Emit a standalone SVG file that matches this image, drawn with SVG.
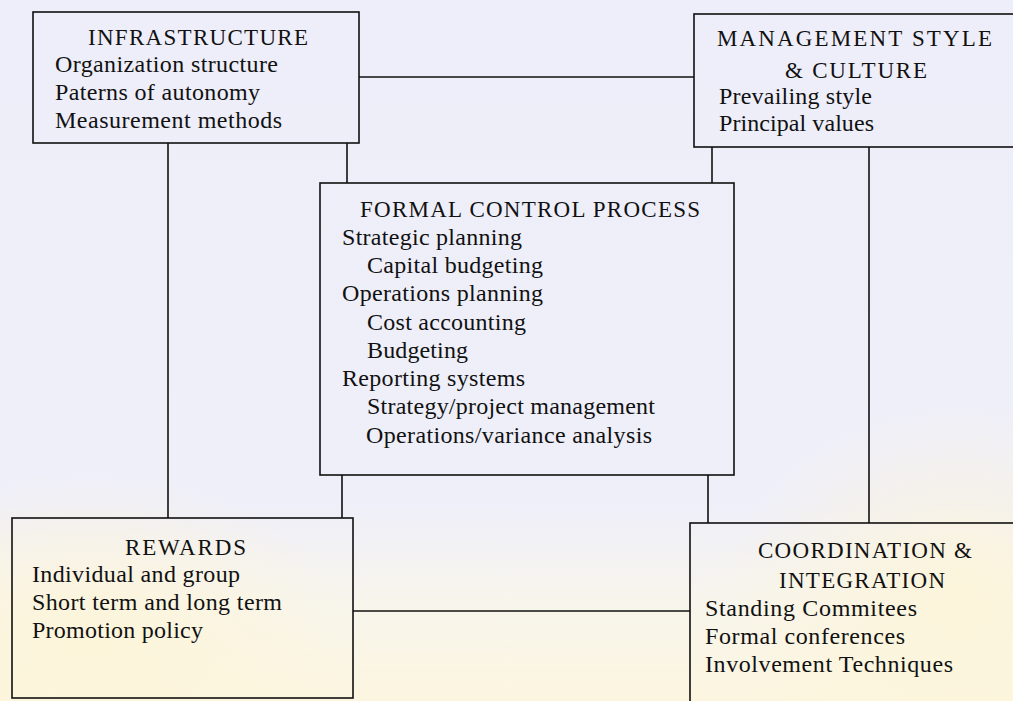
<svg xmlns="http://www.w3.org/2000/svg" width="1013" height="701" viewBox="0 0 1013 701">
  <defs>
    <linearGradient id="bg" x1="0" y1="0" x2="0" y2="1">
      <stop offset="0" stop-color="#eeeefa"/>
      <stop offset="0.72" stop-color="#efeff9"/>
      <stop offset="0.86" stop-color="#f8f5ec"/>
      <stop offset="1" stop-color="#fcf6e0"/>
    </linearGradient>
    <radialGradient id="yl" cx="0.5" cy="0.5" r="0.5">
      <stop offset="0" stop-color="#fdf5d8" stop-opacity="0.9"/>
      <stop offset="1" stop-color="#fdf5d8" stop-opacity="0"/>
    </radialGradient>
    <style>
      .box { fill: none; stroke: #111; stroke-width: 1.6; }
      .con { fill: none; stroke: #111; stroke-width: 1.6; }
      text { font-family: "Liberation Serif", "Times New Roman", serif; fill: #111; }
      .h { font-size: 23px; }
      .b { font-size: 24px; }
    </style>
  </defs>
  <rect x="0" y="0" width="1013" height="701" fill="url(#bg)"/>
  <ellipse cx="90" cy="640" rx="260" ry="170" fill="url(#yl)"/>
  <ellipse cx="960" cy="600" rx="240" ry="200" fill="url(#yl)"/>

  <g id="connectors">
    <line class="con" x1="359" y1="77" x2="694" y2="77"/>
    <line class="con" x1="168" y1="143" x2="168" y2="518"/>
    <line class="con" x1="347" y1="143" x2="347" y2="183"/>
    <line class="con" x1="712" y1="147" x2="712" y2="183"/>
    <line class="con" x1="869" y1="147" x2="869" y2="523"/>
    <line class="con" x1="342" y1="475" x2="342" y2="518"/>
    <line class="con" x1="708" y1="475" x2="708" y2="523"/>
    <line class="con" x1="353" y1="611" x2="690" y2="611"/>
  </g>

  <g id="infrastructure">
    <rect class="box" x="33" y="12" width="326" height="131"/>
    <text class="h" x="88" y="45" textLength="220" lengthAdjust="spacing">INFRASTRUCTURE</text>
    <text class="b" x="55" y="72" textLength="223" lengthAdjust="spacing">Organization structure</text>
    <text class="b" x="55" y="100" textLength="205" lengthAdjust="spacing">Paterns of autonomy</text>
    <text class="b" x="55" y="128" textLength="227" lengthAdjust="spacing">Measurement methods</text>
  </g>

  <g id="management">
    <rect class="box" x="694" y="14" width="330" height="133"/>
    <text class="h" x="717" y="46" textLength="275" lengthAdjust="spacing">MANAGEMENT STYLE</text>
    <text class="h" x="785" y="78" textLength="142" lengthAdjust="spacing">&amp; CULTURE</text>
    <text class="b" x="719" y="104" textLength="153" lengthAdjust="spacing">Prevailing style</text>
    <text class="b" x="719" y="131" textLength="155" lengthAdjust="spacing">Principal values</text>
  </g>

  <g id="formal">
    <rect class="box" x="320" y="183" width="414" height="292"/>
    <text class="h" x="360" y="217" textLength="340" lengthAdjust="spacing">FORMAL CONTROL PROCESS</text>
    <text class="b" x="342" y="245" textLength="180" lengthAdjust="spacing">Strategic planning</text>
    <text class="b" x="367" y="273" textLength="176" lengthAdjust="spacing">Capital budgeting</text>
    <text class="b" x="342" y="301" textLength="201" lengthAdjust="spacing">Operations planning</text>
    <text class="b" x="367" y="330" textLength="159" lengthAdjust="spacing">Cost accounting</text>
    <text class="b" x="367" y="358" textLength="101" lengthAdjust="spacing">Budgeting</text>
    <text class="b" x="342" y="386" textLength="183" lengthAdjust="spacing">Reporting systems</text>
    <text class="b" x="367" y="414" textLength="288" lengthAdjust="spacing">Strategy/project management</text>
    <text class="b" x="366" y="443" textLength="286" lengthAdjust="spacing">Operations/variance analysis</text>
  </g>

  <g id="rewards">
    <rect class="box" x="12" y="518" width="341" height="180"/>
    <text class="h" x="125" y="555" textLength="121" lengthAdjust="spacing">REWARDS</text>
    <text class="b" x="32" y="582" textLength="208" lengthAdjust="spacing">Individual and group</text>
    <text class="b" x="32" y="610" textLength="250" lengthAdjust="spacing">Short term and long term</text>
    <text class="b" x="32" y="638" textLength="171" lengthAdjust="spacing">Promotion policy</text>
  </g>

  <g id="coordination">
    <rect class="box" x="690" y="523" width="340" height="190"/>
    <text class="h" x="758" y="558" textLength="214" lengthAdjust="spacing">COORDINATION &amp;</text>
    <text class="h" x="779" y="588" textLength="166" lengthAdjust="spacing">INTEGRATION</text>
    <text class="b" x="705" y="616" textLength="212" lengthAdjust="spacing">Standing Commitees</text>
    <text class="b" x="705" y="644" textLength="200" lengthAdjust="spacing">Formal conferences</text>
    <text class="b" x="705" y="672" textLength="248" lengthAdjust="spacing">Involvement Techniques</text>
  </g>
</svg>
